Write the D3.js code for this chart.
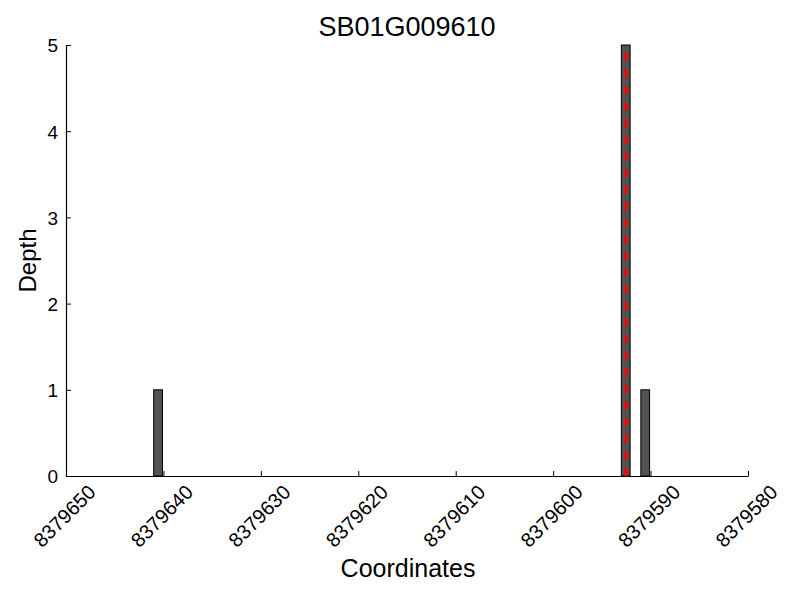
<!DOCTYPE html>
<html>
<head>
<meta charset="utf-8">
<script src="https://cdn.jsdelivr.net/npm/d3@7"></script>
<style>
  html, body { margin: 0; padding: 0; background: #fff; }
  svg { display: block; font-family: "Liberation Sans", Arial, Helvetica, sans-serif; }
</style>
</head>
<body>
<svg id="chart" width="800" height="600"></svg>
<script>
const title = "SB01G009610";
const xLabel = "Coordinates";
const yLabel = "Depth";
const barPositions = [8379641, 8379593, 8379591];
const barDepths = [1, 5, 1];
const barWidth = -0.9;
const xDomain = [8379650, 8379580];
const xTicks = [8379650, 8379640, 8379630, 8379620, 8379610, 8379600, 8379590, 8379580];
const yDomain = [0, 5];
const yTicks = [0, 1, 2, 3, 4, 5];
const markerPosition = 8379592.5;

(function () {
const svg = d3.select("#chart");
const mLeft = 66, mRight = 748, mTop = 45, mBottom = 476;

const x = d3.scaleLinear().domain(xDomain).range([mLeft, mRight]);
const y = d3.scaleLinear().domain(yDomain).range([mBottom, mTop]);

// X axis
const xAxis = d3.axisBottom(x).tickValues(xTicks).tickSizeInner(-5).tickSizeOuter(0).tickFormat(d3.format("d"));
const gx = svg.append("g").attr("transform", `translate(0,${mBottom})`).call(xAxis);
gx.select(".domain").attr("stroke", "#000").attr("stroke-width", 1.2);
gx.selectAll(".tick line").attr("stroke", "#000");
gx.selectAll(".tick text")
  .attr("font-size", 20)
  .attr("fill", "#000")
  .attr("text-anchor", "middle")
  .attr("dominant-baseline", "central")
  .attr("y", 0).attr("dy", null)
  .attr("transform", "translate(-2,40) rotate(-45)");

// Y axis
const yAxis = d3.axisLeft(y).tickValues(yTicks).tickSizeInner(-5).tickSizeOuter(0).tickFormat(d3.format("d"));
const gy = svg.append("g").attr("transform", `translate(${mLeft},0)`).call(yAxis);
gy.select(".domain").attr("stroke", "#000").attr("stroke-width", 1.2);
gy.selectAll(".tick line").attr("stroke", "#000");
gy.selectAll(".tick text")
  .attr("font-size", 19)
  .attr("fill", "#000")
  .attr("x", -8)
  .attr("dy", "0.36em");

// Bars
svg.append("g").selectAll("rect")
  .data(barPositions.map((p, i) => ({p, d: barDepths[i]})))
  .join("rect")
  .attr("x", d => Math.min(x(d.p), x(d.p + barWidth)))
  .attr("width", d => Math.abs(x(d.p + barWidth) - x(d.p)))
  .attr("y", d => y(d.d))
  .attr("height", d => y(0) - y(d.d))
  .attr("fill", "#525252")
  .attr("stroke", "#000")
  .attr("stroke-width", 1);

// Red dashed marker line (drawn from bottom up)
svg.append("line")
  .attr("x1", x(markerPosition)).attr("x2", x(markerPosition))
  .attr("y1", y(0)).attr("y2", y(5))
  .attr("stroke", "#ff0000")
  .attr("stroke-width", 3)
  .attr("stroke-dasharray", "8.3,8.3");

// Title & labels
svg.append("text")
  .attr("x", (mLeft + mRight) / 2).attr("y", 36)
  .attr("text-anchor", "middle")
  .attr("font-size", 27)
  .text(title);

svg.append("text")
  .attr("x", (mLeft + mRight) / 2 + 1).attr("y", 577)
  .attr("text-anchor", "middle")
  .attr("font-size", 25)
  .text(xLabel);

svg.append("text")
  .attr("transform", `translate(36,${(mTop + mBottom) / 2}) rotate(-90)`)
  .attr("text-anchor", "middle")
  .attr("font-size", 24)
  .text(yLabel);
})();
</script>
</body>
</html>
